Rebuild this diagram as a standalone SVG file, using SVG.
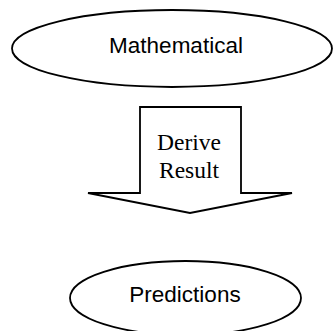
<svg xmlns="http://www.w3.org/2000/svg" width="333" height="331" viewBox="0 0 333 331">
<style>
.shape{fill:#fff;stroke:#000;stroke-width:1.8}
.sans{font-family:"Liberation Sans",Arial,sans-serif;font-size:22.5px;fill:#000;text-anchor:middle}
.serif{font-family:"Liberation Serif","Times New Roman",serif;font-size:23.5px;fill:#000;text-anchor:middle}
</style>
<rect width="333" height="331" fill="#fff"/>
<g id="mathematical">
<ellipse class="shape" cx="172" cy="48.5" rx="160" ry="38.5"/>
<text class="sans" x="176" y="52.5">Mathematical</text>
</g>
<g id="connectors">
<g id="derive-result">
<path class="shape" d="M140 107 H241 V193 H292 L190 213 L88 193 H140 Z" stroke-linejoin="miter"/>
<text class="serif" x="189" y="150">Derive</text>
<text class="serif" x="189" y="178">Result</text>
</g>
</g>
<g id="predictions">
<ellipse class="shape" cx="185.5" cy="298" rx="115.5" ry="37"/>
<text class="sans" x="185" y="302">Predictions</text>
</g>
</svg>
